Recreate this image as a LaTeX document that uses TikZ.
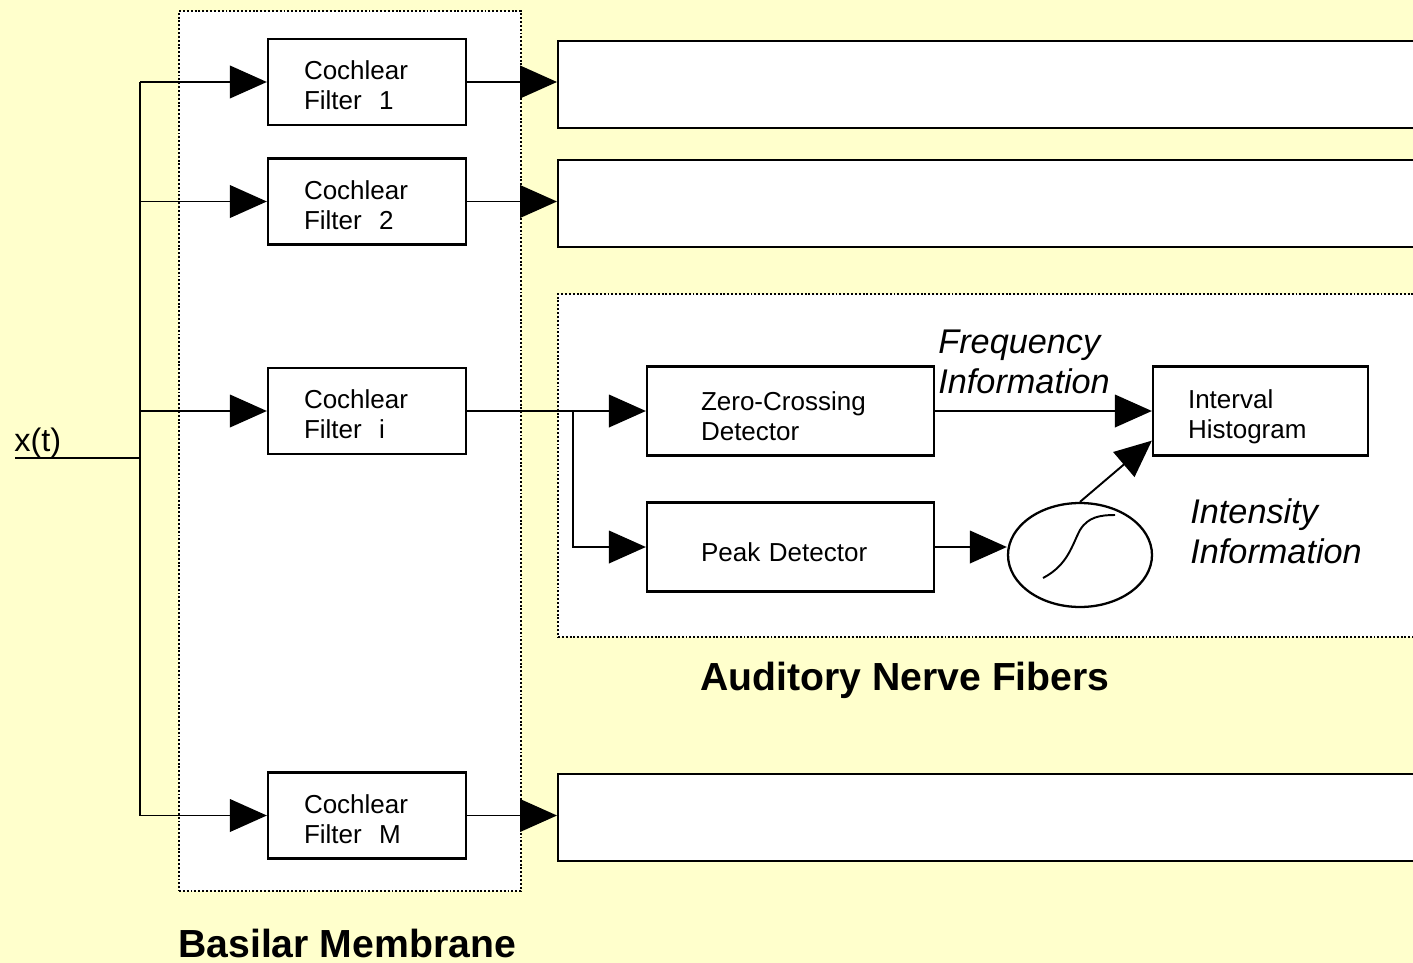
\documentclass[tikz,border=0pt]{standalone}
\usepackage{fontspec}
\setmainfont{Liberation Sans}
\usetikzlibrary{arrows.meta, positioning, shapes, calc}
\definecolor{slidebg}{RGB}{255, 255, 204}

\begin{document}
\begin{tikzpicture}[
    x=0.02cm, y=-0.02cm,
    boxtext/.style={font=\fontsize{14.8}{17}\selectfont},
    filterbox/.style={draw, fill=white, line width=1.3pt, boxtext, align=left, inner xsep=0.72cm, text width=2.52cm, text height=0.52cm, minimum height=1.72cm},
    detbox/.style={draw, fill=white, line width=1.3pt, boxtext, align=left, inner xsep=1.08cm, text width=3.58cm, text height=0.6cm, minimum height=1.78cm},
    histbox/.style={detbox, inner xsep=0.7cm, text width=2.9cm},
    fiberbox/.style={draw, fill=white, line width=1.3pt, anchor=north west, minimum width=18cm, minimum height=1.74cm},
    groupbox/.style={draw, fill=white, line width=1.1pt, dash pattern=on 1.1pt off 1.1pt, anchor=north west, inner sep=0},
    wire/.style={line width=1.1pt},
    feed/.style={wire, -{Triangle[length=21pt, width=18.5pt]}},
    infolabel/.style={align=left, anchor=north west, inner sep=0, font=\fontsize{19.5}{22.7}\selectfont\itshape},
    title/.style={anchor=base west, inner sep=0, font=\fontsize{22.3}{26}\selectfont\bfseries}
]
\useasboundingbox (0,0) rectangle (1413,963);
\clip (0,0) rectangle (1413,963);
\fill[slidebg] (0,0) rectangle (1413,963);

% Basilar membrane
\node[groupbox, minimum width=6.84cm, minimum height=17.6cm] (bm) at (178,10) {};
\node[title] (bmlabel) at (178,957) {Basilar Membrane};

% Auditory nerve fibers
\node[fiberbox] (fiber1) at (557,40) {};
\node[fiberbox] (fiber2) at (557,159) {};
\node[groupbox, minimum width=18cm, minimum height=6.86cm] (fiberi) at (557,293) {};
\node[fiberbox] (fiberM) at (557,773) {};
\node[title] (anlabel) at (700,690) {Auditory Nerve Fibers};

% Cochlear filters
\node[filterbox] (f1) at (367,82) {Cochlear\\Filter~~1};
\node[filterbox] (f2) at (367,201.5) {Cochlear\\Filter~~2};
\node[filterbox] (fi) at (367,411) {Cochlear\\Filter~~i};
\node[filterbox] (fM) at (367,815.5) {Cochlear\\Filter~~M};

% Input
\coordinate (xin) at (15,458);
\coordinate (bus) at (140,458);
\node[anchor=base west, inner sep=0, font=\fontsize{18.5}{22}\selectfont] (xlabel) at (14,451) {x(t)};
\draw[wire] (xin) -- (bus);
\draw[wire] (f1.west -| bus) -- (fM.west -| bus);
\draw[feed] (f1.west -| bus) -- (f1.west);
\draw[feed] (f2.west -| bus) -- (f2.west);
\draw[feed] (fi.west -| bus) -- (fi.west);
\draw[feed] (fM.west -| bus) -- (fM.west);

% Filter outputs
\draw[feed] (f1.east) -- (f1.east -| fiber1.west);
\draw[feed] (f2.east) -- (f2.east -| fiber2.west);
\draw[feed] (fM.east) -- (fM.east -| fiberM.west);

% Detectors in fiber i
\node[detbox] (zc) at (790.5,411) {Zero-Crossing\\Detector};
\node[detbox] (pk) at (790.5,547) {Peak Detector};
\node[histbox] (hist) at (1260.5,411) {Interval\\Histogram};
\node[draw, ellipse, line width=1.3pt, minimum width=2.88cm, minimum height=2.08cm, inner sep=0] (sig) at (1080,555) {};
\draw[line width=1.1pt] (1043,578) .. controls (1068,565) and (1072,545) .. (1080,530) .. controls (1088,517) and (1100,515) .. (1115,515);

\coordinate (split) at (573,411);
\draw[wire] (fi.east) -- (split);
\draw[feed] (split) -- (zc.west);
\draw[feed] (split) |- (pk.west);
\draw[feed] (zc.east) -- (hist.west);
\draw[feed] (pk.east) -- (pk.east -| sig.west);
\draw[feed] (sig.north) -- ($(hist.south west)+(0,-16)$);

\node[infolabel] (freq) at (938,330) {Frequency\\Information};
\node[infolabel] (inten) at (1190,498) {Intensity\\Information};

\end{tikzpicture}
\end{document}
